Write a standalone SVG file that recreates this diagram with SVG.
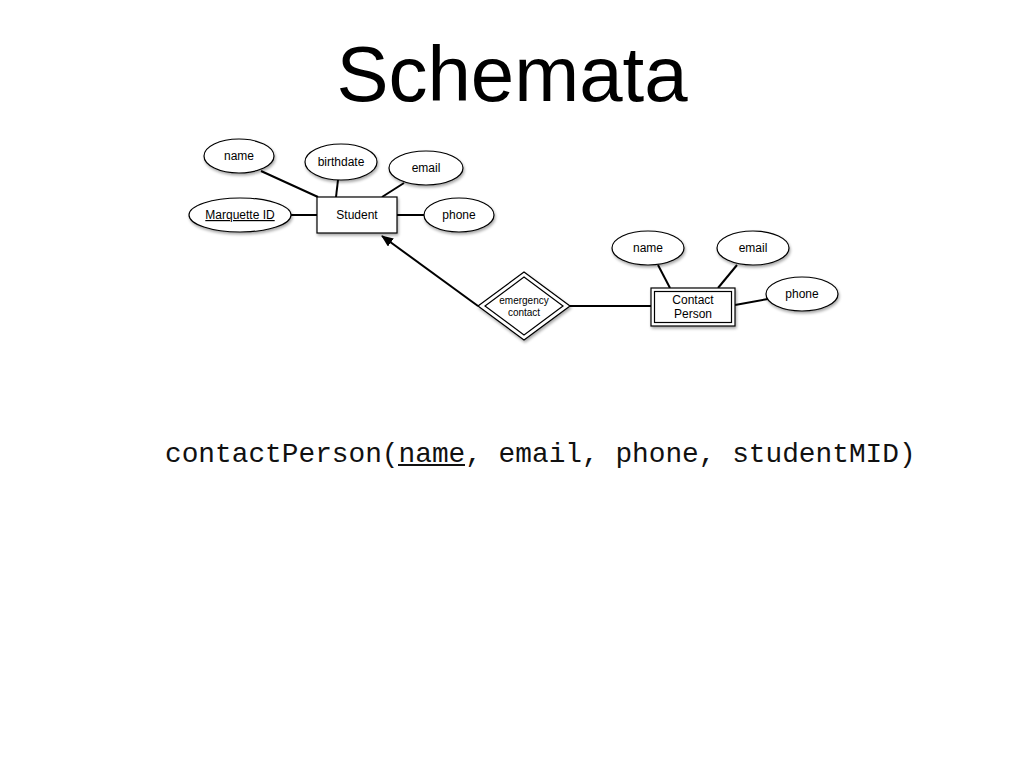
<svg xmlns="http://www.w3.org/2000/svg" width="1024" height="768" viewBox="0 0 1024 768">
<defs>
<filter id="sh" x="-20%" y="-20%" width="150%" height="160%">
<feGaussianBlur in="SourceAlpha" stdDeviation="1.5"/>
<feOffset dx="1" dy="2" result="b"/>
<feComponentTransfer><feFuncA type="linear" slope="0.35"/></feComponentTransfer>
<feMerge><feMergeNode/><feMergeNode in="SourceGraphic"/></feMerge>
</filter>
<marker id="arr" markerWidth="12" markerHeight="10" refX="11" refY="5" orient="auto" markerUnits="userSpaceOnUse">
<path d="M0,0 L12,5 L0,10 Z" fill="#000"/>
</marker>
</defs>
<style>
.s{fill:#fff;stroke:#000;stroke-width:1.2}
.l{stroke:#000;stroke-width:2;fill:none}
.t{font-family:"Liberation Sans",Arial,sans-serif;font-size:12px;fill:#000;text-anchor:middle}
.ts{font-family:"Liberation Sans",Arial,sans-serif;font-size:10px;fill:#000;text-anchor:middle}
</style>
<rect width="1024" height="768" fill="#fff"/>
<text x="512" y="101" font-family="'Liberation Sans',Arial,sans-serif" font-size="78" text-anchor="middle" fill="#000">Schemata</text>

<g id="connectors">
<line class="l" x1="261" y1="171" x2="318" y2="197"/>
<line class="l" x1="338" y1="180" x2="336" y2="197"/>
<line class="l" x1="404" y1="183" x2="382" y2="197"/>
<line class="l" x1="291" y1="215" x2="317" y2="215"/>
<line class="l" x1="397" y1="215" x2="424" y2="215"/>
<line class="l" x1="478" y1="306" x2="382" y2="236" marker-end="url(#arr)"/>
<line class="l" x1="570" y1="306" x2="651" y2="306"/>
<line class="l" x1="658" y1="265" x2="670" y2="288"/>
<line class="l" x1="737" y1="265" x2="718" y2="288"/>
<line class="l" x1="735" y1="305" x2="768" y2="299"/>
</g>

<g id="student-name"><ellipse class="s" filter="url(#sh)" cx="239" cy="156" rx="35" ry="17"/><text class="t" x="239" y="160">name</text></g>
<g id="student-birthdate"><ellipse class="s" filter="url(#sh)" cx="341" cy="162" rx="36" ry="18"/><text class="t" x="341" y="166">birthdate</text></g>
<g id="student-email"><ellipse class="s" filter="url(#sh)" cx="426" cy="168" rx="37" ry="17"/><text class="t" x="426" y="172">email</text></g>
<g id="student-mid"><ellipse class="s" filter="url(#sh)" cx="240" cy="215" rx="51" ry="17"/><text class="t" x="240" y="219" text-decoration="underline">Marquette ID</text></g>
<g id="student-phone"><ellipse class="s" filter="url(#sh)" cx="459" cy="215" rx="35" ry="17"/><text class="t" x="459" y="219">phone</text></g>
<g id="student"><rect class="s" filter="url(#sh)" x="317" y="197" width="80" height="36"/><text class="t" x="357" y="219">Student</text></g>

<g id="emergency-contact">
<polygon class="s" filter="url(#sh)" points="524,272 570,306 524,340 478,306"/>
<polygon class="s" points="524,277 563,306 524,335 485,306"/>
<text class="ts" x="524" y="304">emergency</text>
<text class="ts" x="524" y="316">contact</text>
</g>

<g id="contact-name"><ellipse class="s" filter="url(#sh)" cx="648" cy="248" rx="36" ry="17"/><text class="t" x="648" y="252">name</text></g>
<g id="contact-email"><ellipse class="s" filter="url(#sh)" cx="753" cy="248" rx="36" ry="17"/><text class="t" x="753" y="252">email</text></g>
<g id="contact-phone"><ellipse class="s" filter="url(#sh)" cx="802" cy="294" rx="36" ry="17"/><text class="t" x="802" y="298">phone</text></g>
<g id="contact-person">
<rect class="s" filter="url(#sh)" x="651" y="288" width="84" height="38"/>
<rect class="s" x="654.5" y="291.5" width="77" height="31"/>
<text class="t" x="693" y="304">Contact</text>
<text class="t" x="693" y="318">Person</text>
</g>

<g id="relation">
<text x="165" y="462" font-family="'Liberation Mono','Courier New',monospace" font-size="27.8" fill="#111" xml:space="preserve">contactPerson(name, email, phone, studentMID)</text>
<line x1="398" y1="465" x2="465" y2="465" stroke="#111" stroke-width="2"/>
</g>
</svg>
